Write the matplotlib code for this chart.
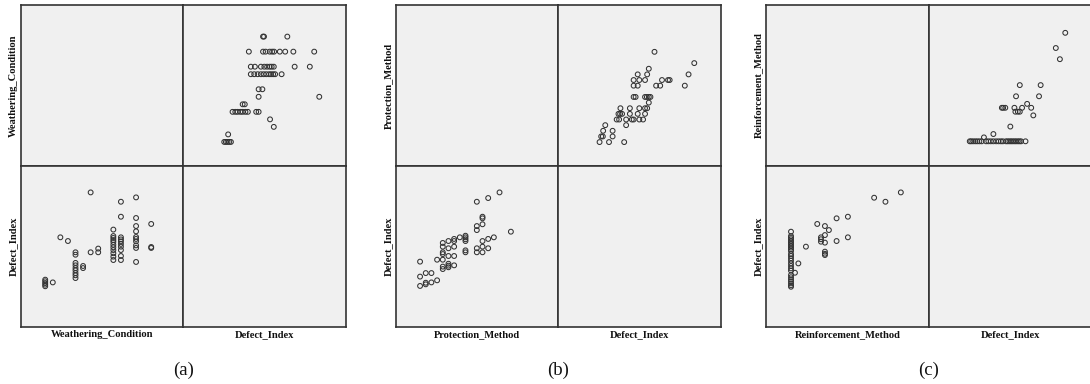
import matplotlib
matplotlib.use("Agg")
import matplotlib.pyplot as plt

# ---------------- data ----------------
weathering_a = [0, 0, 0, 0, 0, 1, 2, 3, 4, 4, 4, 4, 4, 4, 4, 4, 4, 5, 5, 6, 6, 7, 7,
                9, 9, 9, 9, 9, 9, 9, 9, 9, 9, 9,
                10, 10, 10, 10, 10, 10, 10, 10, 10, 10,
                12, 12, 12, 12, 12, 12, 12, 12, 12, 12, 14, 14, 14]
defect_a = [29.4, 28.4, 27.3, 26.3, 25.3, 27.7, 55.7, 53.4,
            46.4, 44.9, 39.8, 38.3, 36.6, 35.2, 33.5, 32.1, 30.4,
            37.9, 36.6, 83.6, 46.4, 48.7, 46.4,
            60.5, 56.5, 55.3, 54.0, 52.8, 51.1, 49.5, 47.8, 45.8, 43.7, 41.6,
            77.8, 68.5, 55.7, 54.4, 53.2, 51.6, 49.9, 47.8, 44.1, 41.6,
            80.5, 67.7, 62.7, 59.4, 55.9, 54.7, 53.2, 50.7, 49.1, 40.4,
            64.0, 49.7, 49.1]

protection_b = [0, 0, 0, 1, 1, 1, 2, 2, 3, 3, 4, 4, 4, 4, 4, 4, 4,
                5, 5, 5, 5, 5, 5, 6, 6, 6, 6, 6, 7, 8, 8, 8, 8, 8, 8,
                10, 10, 10, 10, 10, 11, 11, 11, 11, 11, 11, 12, 12, 12, 13, 14, 16]
defect_b = [40.6, 31.3, 25.5, 33.5, 27.5, 26.5, 33.5, 27.7, 41.8, 29.0,
            52.2, 49.9, 46.4, 45.3, 41.8, 37.5, 36.0,
            53.4, 48.9, 44.1, 39.3, 38.1, 37.1,
            54.7, 53.4, 49.9, 44.1, 38.3, 55.7,
            56.7, 55.7, 54.5, 53.4, 47.6, 46.4,
            77.8, 62.7, 60.2, 48.9, 46.4,
            68.5, 67.5, 63.8, 53.4, 49.9, 46.4,
            80.1, 54.7, 48.9, 55.7, 83.6, 59.2]

reinforcement_c = [0, 0, 0, 0, 0, 0, 0, 0, 0, 0, 0, 0, 0, 0, 0, 0, 0, 0, 0, 0, 0, 0, 0, 0, 0, 0,
                   0.35, 0.65, 1.32, 2.32, 2.65, 2.65, 2.65,
                   3.0, 3.0, 3.0, 3.0, 3.0, 3.0, 3.35, 4.03, 4.03, 5.03, 5.03,
                   7.35, 8.35, 9.71]
defect_c = [59.2, 56.5, 55.5, 54.5, 53.4, 52.4, 51.3, 50.3, 49.3, 48.2, 47.2, 45.3, 44.1,
            42.7, 41.2, 39.5, 37.9, 36.4, 35.0, 32.3, 30.9, 29.6, 28.4, 27.1, 25.9, 25.0,
            33.7, 39.5, 49.9, 64.0, 55.7, 54.5, 53.0,
            62.7, 57.1, 52.4, 46.8, 45.5, 44.7, 60.2, 67.5, 53.4, 68.5, 55.7,
            80.3, 77.8, 83.6]

var_names = ["Weathering_Condition", "Protection_Method", "Reinforcement_Method"]
panel_tags = ["(a)", "(b)", "(c)"]
defect_name = "Defect_Index"

# ---------------- layout / style ----------------
W, H = 1090, 384
fig = plt.figure(figsize=(W / 100, H / 100), dpi=100)
fig.patch.set_facecolor("white")

BG = "#f0f0f0"
EDGE = "#333333"
LABEL_FONT = dict(family="Liberation Serif", fontweight="bold", fontsize=7.6, color="#111111")


def px_rect(x0, y0, x1, y1):
    return [x0 / W, 1 - y1 / H, (x1 - x0) / W, (y1 - y0) / H]


def make_cell(x0, y0, x1, y1):
    ax = fig.add_axes(px_rect(x0, y0, x1, y1))
    ax.set_facecolor(BG)
    ax.set_xticks([])
    ax.set_yticks([])
    for s in ax.spines.values():
        s.set_color(EDGE)
        s.set_linewidth(1.2)
    return ax


def scatter(ax, x, y):
    ax.scatter(x, y, s=12, facecolors="none", edgecolors="#333333", linewidths=0.75,
               clip_on=False)


panels = [
    (21, 183, 346, weathering_a, defect_a, (-3.2, 18.2)),
    (396, 558, 721, protection_b, defect_b, (-4.24, 24.3)),
    (766, 929, 1092, reinforcement_c, defect_c, (-2.21, 12.2)),
]
top, mid, bot = 5, 166, 327
defect_lim = (0, 100)

for (left, cx, right, var, defect, vlim), vname, tag in zip(panels, var_names, panel_tags):
    ax_tl = make_cell(left, top, cx, mid)
    ax_tr = make_cell(cx, top, right, mid)
    ax_bl = make_cell(left, mid, cx, bot)
    ax_br = make_cell(cx, mid, right, bot)

    # upper-right: x = defect, y = variable
    scatter(ax_tr, defect, var)
    ax_tr.set_xlim(defect_lim)
    ax_tr.set_ylim(vlim)
    # lower-left: x = variable, y = defect
    scatter(ax_bl, var, defect)
    ax_bl.set_xlim(vlim)
    ax_bl.set_ylim(defect_lim)
    for a in (ax_tl, ax_br):
        a.set_xlim(0, 1)
        a.set_ylim(0, 1)

    ax_tl.set_ylabel(vname, labelpad=2.5, **LABEL_FONT)
    ax_bl.set_ylabel(defect_name, labelpad=2.5, **LABEL_FONT)
    ax_bl.set_xlabel(vname, labelpad=2, **LABEL_FONT)
    ax_br.set_xlabel(defect_name, labelpad=2, **LABEL_FONT)

    fig.text(((left + right) / 2) / W, 1 - 370 / H, tag, ha="center", va="center",
             family="Liberation Serif", fontsize=13.5, color="#111111")

fig.savefig("out.png", dpi=100, facecolor="white")
